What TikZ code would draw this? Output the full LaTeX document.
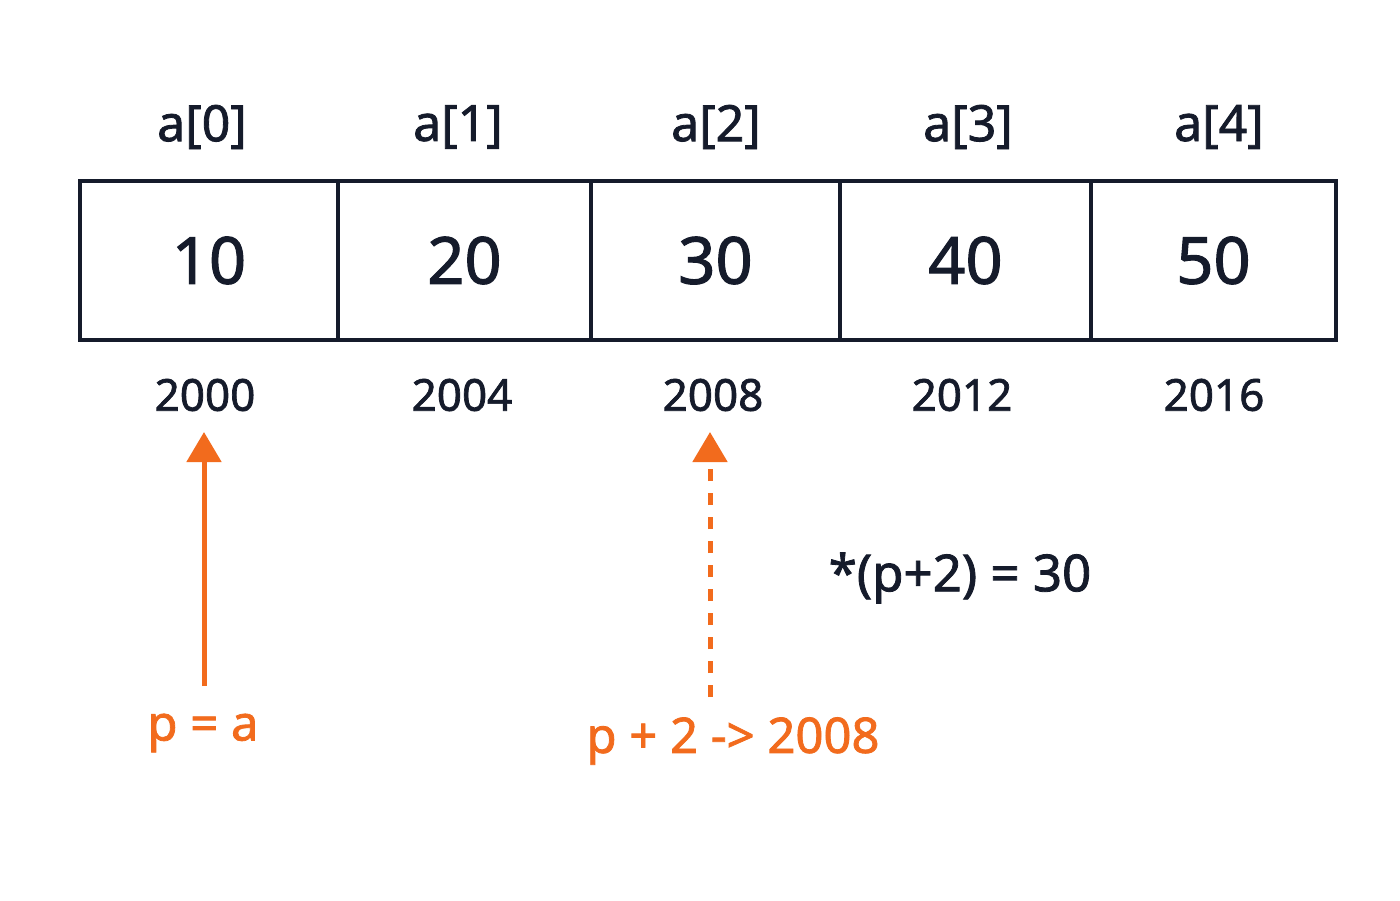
\documentclass[tikz,border=0pt]{standalone}
\usepackage{fontspec}
\setmainfont{Noto Sans}[FakeBold=1.6]
\usetikzlibrary{arrows.meta}
\definecolor{ink}{HTML}{151B2B}
\definecolor{orng}{HTML}{F26B1D}
\tikzset{
  cell/.style={draw=ink, line width=4pt, inner sep=0pt, minimum height=159pt, text=ink, font=\fontsize{65}{70}\selectfont},
  idx/.style={text=ink, inner sep=0pt, font=\fontsize{50}{55}\selectfont},
  addr/.style={text=ink, inner sep=0pt, font=\fontsize{44}{50}\selectfont},
  note/.style={text=ink, inner sep=0pt, font=\fontsize{51}{56}\selectfont},
  olabel/.style={text=orng, inner sep=0pt, font=\fontsize{49}{54}\selectfont},
  ptr/.style={draw=orng, line width=5pt, -{Triangle[length=30pt,width=34pt]}},
  ptrdash/.style={ptr, dash pattern=on 12pt off 12pt}
}
\begin{document}
\begin{tikzpicture}[x=1pt,y=-1pt]
\useasboundingbox[fill=white] (0,0) rectangle (1400,900);
% cells
\node[cell, minimum width=258pt] (c0) at (209,260.5) {10};
\node[cell, minimum width=253pt] (c1) at (464.5,260.5) {20};
\node[cell, minimum width=249pt] (c2) at (715.5,260.5) {30};
\node[cell, minimum width=251pt] (c3) at (965.5,260.5) {40};
\node[cell, minimum width=245pt] (c4) at (1213.5,260.5) {50};
% index labels
\node[idx] (i0) at (202,127) {a[0]};
\node[idx] (i1) at (458,127) {a[1]};
\node[idx] (i2) at (716,127) {a[2]};
\node[idx] (i3) at (968,127) {a[3]};
\node[idx] (i4) at (1219,127) {a[4]};
% addresses
\node[addr] (d0) at (205,395) {2000};
\node[addr] (d1) at (462,395) {2004};
\node[addr] (d2) at (713,395) {2008};
\node[addr] (d3) at (962,395) {2012};
\node[addr] (d4) at (1214,395) {2016};
% pointer labels
\node[olabel] (pa) at (203,733) {p = a};
\node[olabel] (p2) at (733,741) {p + 2 -> 2008};
\node[note] (deref) at (960,578) {*(p+2) = 30};
% arrows
\coordinate (s0) at (204,686);
\coordinate (t0) at (204,432);
\coordinate (s2) at (710,697);
\coordinate (t2) at (710,432);
\draw[ptr] (s0) -- (t0);
\draw[ptrdash] (s2) -- (t2);
\end{tikzpicture}
\end{document}
